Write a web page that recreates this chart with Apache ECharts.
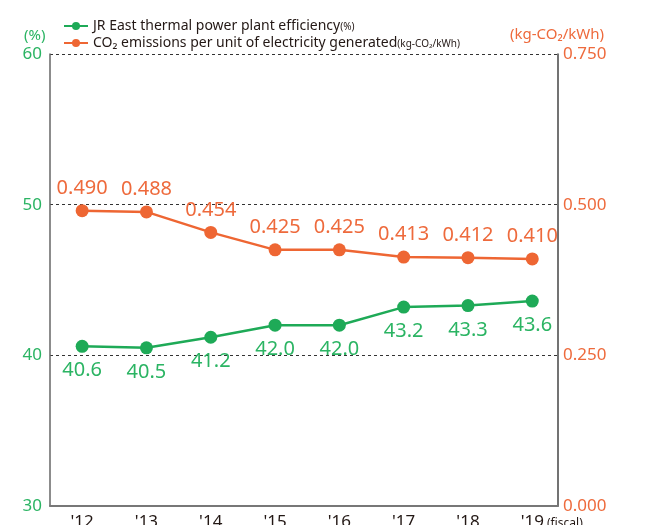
<!DOCTYPE html>
<html><head><meta charset="utf-8">
<script src="https://cdn.jsdelivr.net/npm/echarts@6/dist/echarts.min.js"></script>
<style>html,body{margin:0;padding:0;background:#fff}#c{width:650px;height:525px}</style>
</head><body><div id="c"></div>
<script>
const categories = ["'12","'13","'14","'15","'16","'17","'18","'19"];
const efficiency = [40.6, 40.5, 41.2, 42.0, 42.0, 43.2, 43.3, 43.6];
const emissions = [0.490, 0.488, 0.454, 0.425, 0.425, 0.413, 0.412, 0.410];
const leftTicks = [30, 40, 50, 60];
const rightTicks = [0, 0.25, 0.5, 0.75];
const effName = "JR East thermal power plant efficiency";
const co2Name = "CO\u2082 emissions per unit of electricity generated";

const GREEN = '#1EAA57', GREEN_T = '#2BB463', ORANGE = '#EE6633', ORANGE_T = '#EE6A3C';
const FONT = '"Noto Sans", sans-serif';
const chart = echarts.init(document.getElementById('c'));
chart.setOption({
  animation: false,
  textStyle: { fontFamily: FONT },
  grid: { left: 50, right: 92, top: 54, bottom: 19, outerBoundsMode: 'none', containLabel: false },
  legend: {
    orient: 'vertical', left: 58, top: 14, itemGap: 3,
    itemWidth: 24, itemHeight: 10,
    textStyle: { color: '#231815', fontSize: 14, fontFamily: FONT,
      rich: { s: { fontSize: 10, color: '#231815', fontFamily: FONT, padding: [3,0,0,0] } } },
    formatter: n => n === effName ? n + '{s|(%)}' : n + '{s|(kg-CO\u2082/kWh)}',
    data: [effName, co2Name]
  },
  xAxis: {
    type: 'value', min: -0.5, max: 7.4,
    axisLine: { show: true, onZero: false, lineStyle: { color: '#777', width: 2 } },
    axisTick: { show: false }, splitLine: { show: false },
    axisLabel: { customValues: categories.map((c, i) => i), formatter: v => categories[Math.round(v)] ?? '',
      color: '#231815', fontSize: 17, margin: 8, fontFamily: FONT }
  },
  yAxis: [
    { type: 'value', min: leftTicks[0], max: leftTicks[leftTicks.length-1], interval: 10, position: 'left',
      axisLine: { show: true, onZero: false, lineStyle: { color: '#666', width: 1.5 } }, axisTick: { show: false },
      axisLabel: { color: GREEN_T, fontSize: 17, margin: 8, fontFamily: FONT },
      splitLine: { show: true, lineStyle: { color: '#333', type: [3, 3], width: 1 } } },
    { type: 'value', min: rightTicks[0], max: rightTicks[rightTicks.length-1], interval: 0.25, position: 'right',
      axisLine: { show: true, onZero: false, lineStyle: { color: '#444', width: 1.5 } }, axisTick: { show: false },
      axisLabel: { color: ORANGE_T, fontSize: 17, margin: 5, fontFamily: FONT, formatter: v => v.toFixed(3) },
      splitLine: { show: false } }
  ],
  graphic: [
    { type: 'text', left: 24, top: 28, style: { text: '(%)', fill: GREEN_T, fontSize: 15, fontFamily: FONT } },
    { type: 'text', right: 46, top: 27, style: { text: '(kg-CO\u2082/kWh)', fill: ORANGE_T, fontSize: 15, fontFamily: FONT } },
    { type: 'text', left: 547, top: 518, style: { text: '(fiscal)', fill: '#231815', fontSize: 12, fontFamily: FONT } }
  ],
  series: [
    { name: effName, type: 'line', yAxisIndex: 0,
      data: efficiency.map((v, i) => [i, v]),
      symbol: 'circle', symbolSize: 13,
      lineStyle: { color: GREEN, width: 2.5 }, itemStyle: { color: GREEN },
      label: { show: true, position: 'bottom', distance: 8, color: GREEN_T, fontSize: 20, fontFamily: FONT,
        formatter: p => p.value[1].toFixed(1) } },
    { name: co2Name, type: 'line', yAxisIndex: 1,
      data: emissions.map((v, i) => [i, v]),
      symbol: 'circle', symbolSize: 13,
      lineStyle: { color: ORANGE, width: 2.5 }, itemStyle: { color: ORANGE },
      label: { show: true, position: 'top', distance: 6, color: ORANGE_T, fontSize: 20, fontFamily: FONT,
        formatter: p => p.value[1].toFixed(3) } }
  ]
});
</script></body></html>
